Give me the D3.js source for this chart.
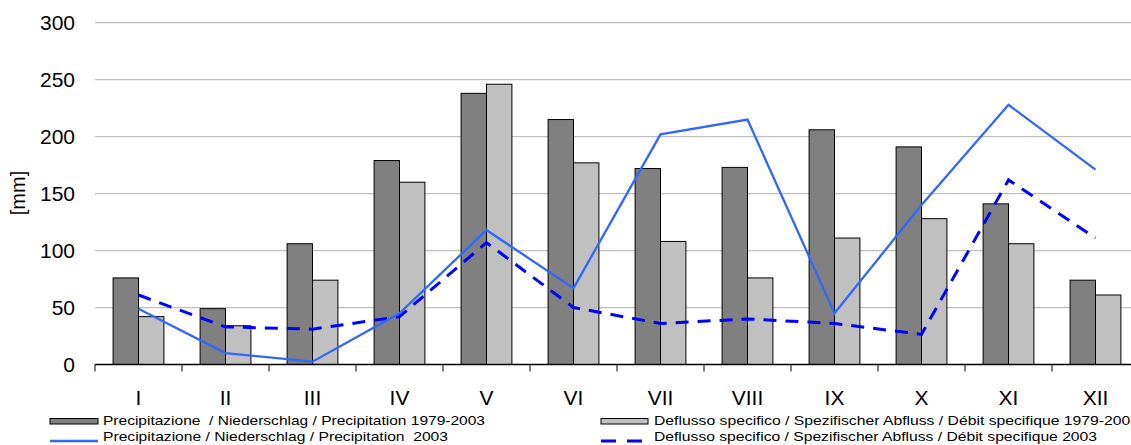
<!DOCTYPE html>
<html>
<head>
<meta charset="utf-8">
<script src="https://cdn.jsdelivr.net/npm/d3@7"></script>
<style>
  body { margin: 0; background: #fff; }
  text { font-family: "Liberation Sans", Arial, sans-serif; fill: #000; white-space: pre; }
</style>
</head>
<body>
<svg id="chart" width="1131" height="445"></svg>
<script>
// data
var months = ["I", "II", "III", "IV", "V", "VI", "VII", "VIII", "IX", "X", "XI", "XII"];
var precipMean = [76, 49, 106, 179, 238, 215, 172, 173, 206, 191, 141, 74];
var runoffMean = [42, 34, 74, 160, 246, 177, 108, 76, 111, 128, 106, 61];
var precip2003 = [49, 10, 2.5, 45, 118, 67, 202, 215, 45, 140, 228, 171];
var runoff2003 = [61, 33, 31, 42, 107, 50, 36, 40, 36, 26.5, 162, 111];
var yTicks = [0, 50, 100, 150, 200, 250, 300];

var svg = d3.select("#chart");

var x = d3.scaleBand()
	.domain(months)
	.range([95, 1139])
	.padding(0);
var y = d3.scaleLinear()
	.domain([0, 300])
	.range([364.5, 22.7]);

var bw = x.bandwidth();
var barW = bw * 0.292;

// gridlines
svg.append("g")
	.selectAll("line")
	.data(yTicks.slice(1))
	.enter().append("line")
	.attr("x1", 95)
	.attr("x2", 1131)
	.attr("y1", function(d) { return y(d); })
	.attr("y2", function(d) { return y(d); })
	.attr("stroke", "#c0c0c0")
	.attr("stroke-width", 1.2);

// y labels
svg.append("g")
	.selectAll("text")
	.data(yTicks)
	.enter().append("text")
	.attr("x", 75)
	.attr("y", function(d) { return y(d); })
	.attr("dy", "0.36em")
	.attr("text-anchor", "end")
	.style("font-size", "21px")
	.text(function(d) { return d; });

svg.append("text")
	.attr("transform", "translate(25,193) rotate(-90)")
	.attr("text-anchor", "middle")
	.style("font-size", "20px")
	.text("[mm]");

// bars
var bars = svg.append("g");
bars.selectAll(".dark")
	.data(precipMean)
	.enter().append("rect")
	.attr("class", "dark")
	.attr("x", function(d, i) { return x(months[i]) + bw / 2 - barW; })
	.attr("y", function(d) { return y(d); })
	.attr("width", barW)
	.attr("height", function(d) { return y(0) - y(d); })
	.attr("fill", "#808080")
	.attr("stroke", "#000")
	.attr("stroke-width", 1);
bars.selectAll(".light")
	.data(runoffMean)
	.enter().append("rect")
	.attr("class", "light")
	.attr("x", function(d, i) { return x(months[i]) + bw / 2; })
	.attr("y", function(d) { return y(d); })
	.attr("width", barW)
	.attr("height", function(d) { return y(0) - y(d); })
	.attr("fill", "#c0c0c0")
	.attr("stroke", "#000")
	.attr("stroke-width", 1);

// lines
var line = d3.line()
	.x(function(d, i) { return x(months[i]) + bw / 2; })
	.y(function(d) { return y(d); });

svg.append("path")
	.datum(runoff2003)
	.attr("d", line)
	.attr("fill", "none")
	.attr("stroke", "#0000ff")
	.attr("stroke-width", 3)
	.attr("stroke-dasharray", "13,9");

svg.append("path")
	.datum(precip2003)
	.attr("d", line)
	.attr("fill", "none")
	.attr("stroke", "#3366ff")
	.attr("stroke-width", 2.3);

// x axis
var axis = svg.append("g");
axis.append("line")
	.attr("x1", 95)
	.attr("x2", 1131)
	.attr("y1", y(0))
	.attr("y2", y(0))
	.attr("stroke", "#000")
	.attr("stroke-width", 1.3);
axis.selectAll(".tick")
	.data(months)
	.enter().append("line")
	.attr("class", "tick")
	.attr("x1", function(d) { return x(d); })
	.attr("x2", function(d) { return x(d); })
	.attr("y1", y(0))
	.attr("y2", y(0) + 7)
	.attr("stroke", "#000")
	.attr("stroke-width", 1);
axis.selectAll("text")
	.data(months)
	.enter().append("text")
	.attr("x", function(d) { return x(d) + bw / 2; })
	.attr("y", 405)
	.attr("text-anchor", "middle")
	.style("font-size", "21px")
	.text(function(d) { return d; });

// legend
var legend = svg.append("g").style("font-size", "13.5px");
legend.append("rect")
	.attr("x", 50).attr("y", 418.5).attr("width", 48).attr("height", 5.5)
	.attr("fill", "#808080").attr("stroke", "#000").attr("stroke-width", 1);
legend.append("text").attr("x", 103).attr("y", 425)
	.attr("textLength", 382).attr("lengthAdjust", "spacingAndGlyphs")
	.text("Precipitazione  / Niederschlag / Precipitation 1979-2003");
legend.append("line")
	.attr("x1", 50).attr("x2", 98).attr("y1", 441).attr("y2", 441)
	.attr("stroke", "#3366ff").attr("stroke-width", 2.3);
legend.append("text").attr("x", 103).attr("y", 440.5)
	.attr("textLength", 345).attr("lengthAdjust", "spacingAndGlyphs")
	.text("Precipitazione / Niederschlag / Precipitation  2003");

legend.append("rect")
	.attr("x", 601).attr("y", 418.5).attr("width", 47).attr("height", 5.5)
	.attr("fill", "#c0c0c0").attr("stroke", "#000").attr("stroke-width", 1);
legend.append("text").attr("x", 654).attr("y", 425)
	.attr("textLength", 485).attr("lengthAdjust", "spacingAndGlyphs")
	.text("Deflusso specifico / Spezifischer Abfluss / Débit specifique 1979-2003");
legend.append("line")
	.attr("x1", 601).attr("x2", 644).attr("y1", 441).attr("y2", 441)
	.attr("stroke", "#0000ff").attr("stroke-width", 3)
	.attr("stroke-dasharray", "15,11");
legend.append("text").attr("x", 654).attr("y", 440.5)
	.attr("textLength", 443).attr("lengthAdjust", "spacingAndGlyphs")
	.text("Deflusso specifico / Spezifischer Abfluss / Débit specifique 2003");
</script>
</body>
</html>
